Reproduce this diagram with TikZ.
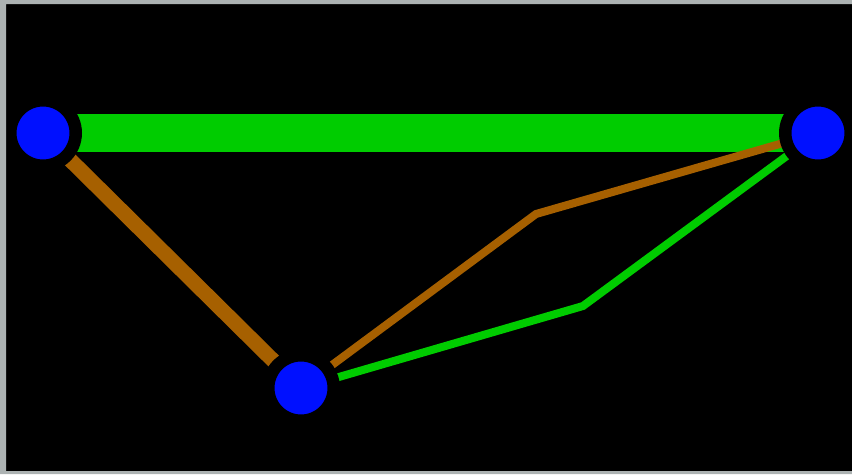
\documentclass[tikz,border=0pt]{standalone}
\usepackage{tikz}
\usetikzlibrary{backgrounds}
\definecolor{mygreen}{RGB}{0,204,0}
\definecolor{mybrown}{RGB}{166,96,0}
\definecolor{myblue}{RGB}{0,16,255}
\definecolor{framegray}{RGB}{172,178,178}
\tikzset{
  vertex/.style={circle, fill=myblue, draw=black, line width=0.25cm, minimum size=1.31cm,
                 inner sep=0pt, outer sep=0pt},
  heavygreen/.style={draw=mygreen, line width=0.76cm},
  heavybrown/.style={draw=mybrown, line width=0.30cm},
  thingreen/.style={draw=mygreen, line width=0.16cm},
  thinbrown/.style={draw=mybrown, line width=0.16cm},
}
\begin{document}
\begin{tikzpicture}[x=0.02cm, y=-0.02cm]
        \useasboundingbox (0,0) rectangle (852,474);
        \node[vertex] (left) at (43,133) {};
        \node[vertex] (right) at (818,133) {};
        \node[vertex] (bottom) at (301,388) {};
        \coordinate (kb) at (536,214);
        \coordinate (kg) at (583,306);
        \begin{scope}[on background layer]
          \fill[black] (0,0) rectangle (852,474);
          \draw[heavygreen] (left) -- (right);
          \draw[heavybrown] (left) -- (bottom);
          \draw[thinbrown] (bottom) -- (kb) -- (right);
          \draw[thingreen] (bottom) -- (kg) -- (right);
        \end{scope}
        % frame on top
        \fill[framegray, even odd rule] (0,0) rectangle (852,474) (6,4) rectangle (852,471);
      \end{tikzpicture}
\end{document}
